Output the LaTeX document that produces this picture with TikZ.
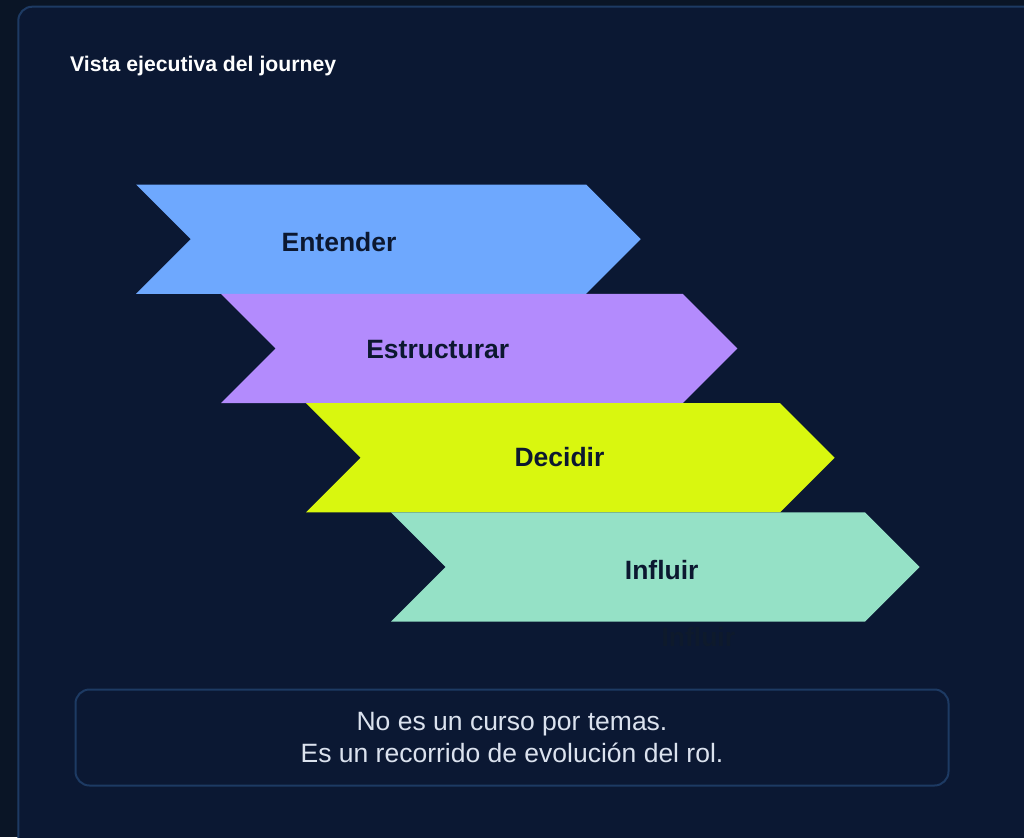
\documentclass[tikz,border=0pt]{standalone}
\usepackage{fontspec}
\setmainfont{Liberation Sans}
\definecolor{pagebg}{HTML}{0A1526}
\definecolor{cardbg}{HTML}{0B1833}
\definecolor{cardline}{HTML}{1D3A63}
\definecolor{cBlue}{HTML}{6EA8FE}
\definecolor{cPurple}{HTML}{B38BFD}
\definecolor{cLime}{HTML}{D9F70F}
\definecolor{cMint}{HTML}{95E1C6}
\definecolor{labelink}{HTML}{0C1830}
\definecolor{noteink}{HTML}{DBE2EE}
\definecolor{ghostink}{HTML}{0E1A2C}
\begin{document}
\begin{tikzpicture}[x=1pt,y=-1pt,
  steplabel/.style={anchor=base, text=labelink, font=\fontsize{26.5}{30}\selectfont\bfseries, inner sep=0pt},
  notebox/.style={draw=cardline, line width=2pt, rounded corners=14pt, fill=cardbg,
    minimum width=873pt, minimum height=96pt, align=center, text=noteink,
    font=\fontsize{26.5}{32.3}\selectfont, inner sep=0pt}]
\useasboundingbox (0,0) rectangle (1024,837);
\fill[pagebg] (0,0) rectangle (1024,837);
\begin{scope}
\clip (0,0) rectangle (1024,837);
\draw[cardline, line width=2pt, fill=cardbg, rounded corners=14pt] (18.3,6.7) rectangle (1060,860);
\end{scope}
\node[anchor=base west, inner sep=0pt, text=white, font=\fontsize{21.2}{24}\selectfont\bfseries] (title) at (70,71.7) {Vista ejecutiva del journey};
% chevrons
\def\hh{54.65}
\fill[cBlue]   (136,184.5) -- (586,184.5) -- (640.65,239.15) -- (586,293.8) -- (136,293.8) -- (190.65,239.15) -- cycle;
\fill[cPurple] (221,293.8) -- (682.7,293.8) -- (737.35,348.45) -- (682.7,403.1) -- (221,403.1) -- (275.65,348.45) -- cycle;
\fill[cLime]   (306,403.1) -- (780,403.1) -- (834.65,457.75) -- (780,512.4) -- (306,512.4) -- (360.65,457.75) -- cycle;
\fill[cMint]   (391,512.4) -- (865,512.4) -- (919.65,567.05) -- (865,621.7) -- (391,621.7) -- (445.65,567.05) -- cycle;
\node[steplabel] (s1) at (339,251) {Entender};
\node[steplabel] (s2) at (437.7,358.3) {Estructurar};
\node[steplabel] (s3) at (559.5,466.7) {Decidir};
\node[steplabel] (s4) at (661.7,579) {Influir};
\node[steplabel, text=ghostink] (ghost) at (698.3,646.7) {Influir};
\node[notebox] (note) at (512,737.5) {No es un curso por temas.\\Es un recorrido de evolución del rol.};
\end{tikzpicture}
\end{document}
